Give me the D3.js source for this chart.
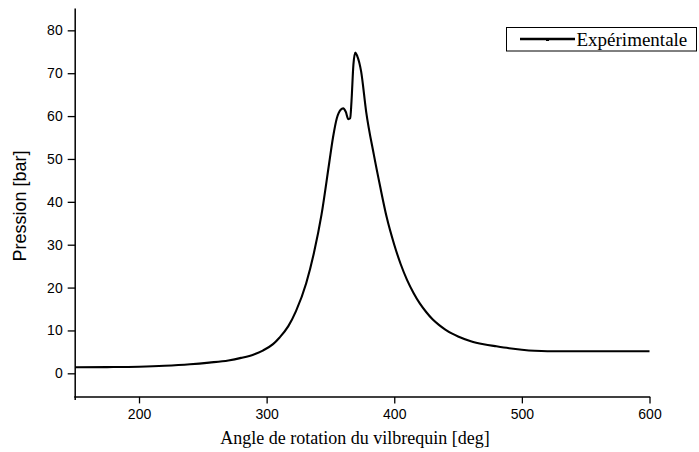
<!DOCTYPE html>
<html>
<head>
<meta charset="utf-8">
<script src="https://cdn.jsdelivr.net/npm/d3@7"></script>
<style>
  html, body { margin: 0; padding: 0; background: #fff; }
  svg { display: block; }
</style>
</head>
<body>
<svg id="chart" width="699" height="452"></svg>
<script>
// Crank angle (deg) and measured pressure (bar)
const angles = [150, 175, 200, 220, 240, 255, 270, 280, 290, 297, 305, 310, 317, 323, 331, 337, 343, 349, 352, 355, 358, 360, 362, 364, 365.5, 366.5, 368, 369.5, 371, 374, 378, 384, 389, 394, 400, 405, 410, 415, 420, 425, 430, 435, 440, 445, 450, 460, 470, 480, 490, 500, 510, 520, 550, 575, 600];
const pressure = [1.4, 1.45, 1.55, 1.75, 2.1, 2.5, 3.0, 3.6, 4.4, 5.3, 6.8, 8.3, 11, 14.5, 21, 28, 37, 49, 55, 59.5, 61.5, 61.8, 61, 59.3, 59.5, 63.5, 72, 74.8, 74, 70.5, 61, 51, 43.5, 36.5, 30, 25.5, 21.8, 18.8, 16.3, 14.3, 12.6, 11.3, 10.2, 9.3, 8.6, 7.5, 6.8, 6.3, 5.85, 5.5, 5.25, 5.15, 5.15, 5.15, 5.15];
const xTicks = [200, 300, 400, 500, 600];
const xMinor = [150, 250, 350, 450, 550];
const yTicks = [0, 10, 20, 30, 40, 50, 60, 70, 80];
const yMinor = [-5, 5, 15, 25, 35, 45, 55, 65, 75, 85];
const seriesName = "Expérimentale";
const xTitle = "Angle de rotation du vilbrequin [deg]";
const yTitle = "Pression [bar]";

const svg = d3.select("#chart");
const x = d3.scaleLinear().domain([150, 600]).range([75.2, 649.5]);
const y = d3.scaleLinear().domain([-5.5, 85]).range([396.9, 8.9]);

const sans = "'Liberation Sans', Arial, sans-serif";
const serif = "'Liberation Serif', 'Times New Roman', serif";

// X axis
const gx = svg.append("g").attr("transform", `translate(0,${y(-5.5)})`);
gx.call(d3.axisBottom(x).tickValues(xMinor).tickSize(4).tickFormat(""));
gx.call(d3.axisBottom(x).tickValues(xTicks).tickSize(6.5).tickPadding(6).tickFormat(d3.format("d")));
gx.selectAll(".domain").remove();
gx.append("line").attr("x1", x(150) - 1).attr("x2", x(600) + 0.75).attr("stroke", "#000").attr("stroke-width", 1.5);
gx.selectAll(".tick line").attr("stroke", "#000").attr("stroke-width", 1.3);
gx.selectAll(".tick text").attr("font-family", sans).attr("font-size", 14).attr("fill", "#000");

// Y axis
const gy = svg.append("g").attr("transform", `translate(${x(150)},0)`);
gy.call(d3.axisLeft(y).tickValues(yMinor).tickSize(4).tickFormat(""));
gy.call(d3.axisLeft(y).tickValues(yTicks).tickSize(7.5).tickPadding(5).tickFormat(d3.format("d")));
gy.selectAll(".domain").remove();
gy.append("line").attr("y1", y(85) - 0.5).attr("y2", y(-5.5) + 3).attr("stroke", "#000").attr("stroke-width", 1.5);
gy.selectAll(".tick line").attr("stroke", "#000").attr("stroke-width", 1.3);
gy.selectAll(".tick text").attr("font-family", sans).attr("font-size", 14).attr("fill", "#000");

// Curve
const data = angles.map((a, i) => ({a, p: pressure[i]}));
const line = d3.line().x(d => x(d.a)).y(d => y(d.p)).curve(d3.curveMonotoneX);
svg.append("path").datum(data)
  .attr("d", line)
  .attr("fill", "none")
  .attr("stroke", "#000")
  .attr("stroke-width", 2.1)
  .attr("stroke-linejoin", "round");

// Axis titles
svg.append("text")
  .attr("x", 355).attr("y", 444)
  .attr("text-anchor", "middle")
  .attr("font-family", serif).attr("font-size", 18)
  .text(xTitle);

svg.append("text")
  .attr("transform", `translate(26,${(y(85) + y(-5.5)) / 2 + 3}) rotate(-90)`)
  .attr("text-anchor", "middle")
  .attr("font-family", sans).attr("font-size", 18)
  .text(yTitle);

// Legend
const lg = svg.append("g");
lg.append("rect").attr("x", 506.5).attr("y", 27.5).attr("width", 190).attr("height", 23.5)
  .attr("fill", "#fff").attr("stroke", "#000").attr("stroke-width", 1);
lg.append("line").attr("x1", 520).attr("x2", 575).attr("y1", 39).attr("y2", 39)
  .attr("stroke", "#000").attr("stroke-width", 2.5);
lg.append("rect").attr("x", 546).attr("y", 38.5).attr("width", 3).attr("height", 2.5).attr("fill", "#000");
lg.append("text").attr("x", 576.5).attr("y", 45.5)
  .attr("font-family", serif).attr("font-size", 19)
  .text(seriesName);
</script>
</body>
</html>
